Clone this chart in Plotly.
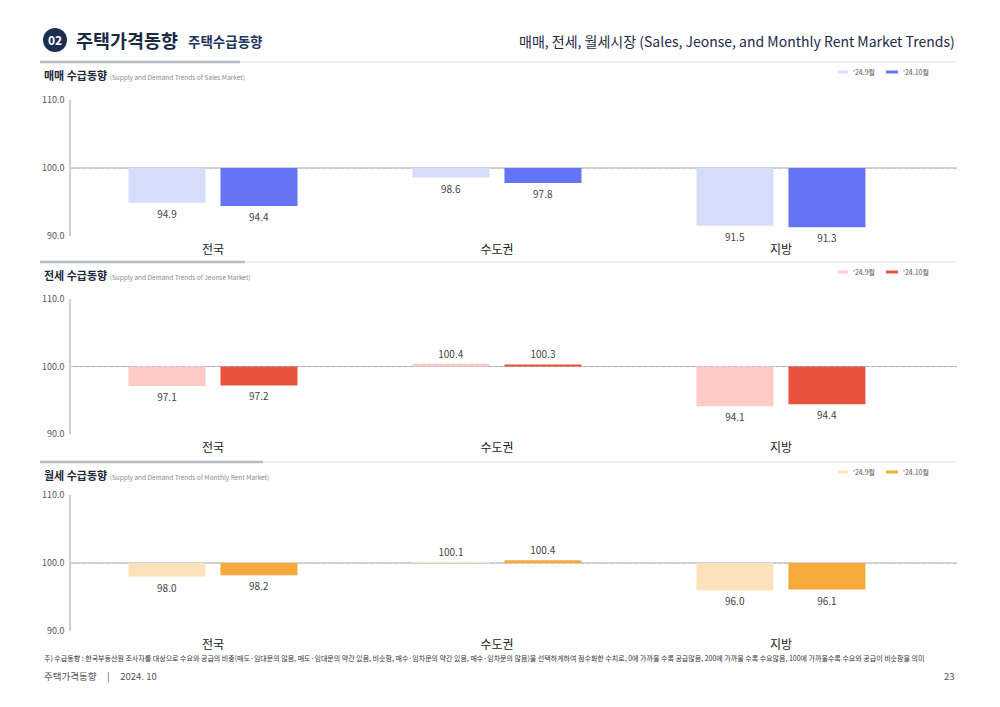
import plotly.graph_objects as go

categories = ["전국", "수도권", "지방"]
series_names = ["'24.9월", "'24.10월"]

sales_sep = [94.9, 98.6, 91.5]
sales_oct = [94.4, 97.8, 91.3]
jeonse_sep = [97.1, 100.4, 94.1]
jeonse_oct = [97.2, 100.3, 94.4]
rent_sep = [98.0, 100.1, 96.0]
rent_oct = [98.2, 100.4, 96.1]

base_value = 100.0
y_ticks = [90, 100, 110]

panel_titles = ["매매 수급동향", "전세 수급동향", "월세 수급동향"]
panel_subtitles = [
    "(Supply and Demand Trends of Sales Market)",
    "(Supply and Demand Trends of Jeonse Market)",
    "(Supply and Demand Trends of Monthly Rent Market)",
]

FONT = "Noto Sans CJK KR"
W, H = 1000, 707


def px(x):
    return x / W


def py(y):
    return 1 - y / H


panels = [
    dict(sep=sales_sep, oct=sales_oct, colors=("#d5ddfa", "#6574f4"),
         top=100, bot=236, line_y=62, thick_end=240, title_y=75, legend_y=72),
    dict(sep=jeonse_sep, oct=jeonse_oct, colors=("#fdcac6", "#e8523f"),
         top=299, bot=434, line_y=262, thick_end=245, title_y=275, legend_y=272),
    dict(sep=rent_sep, oct=rent_oct, colors=("#fde1ba", "#f5aa3a"),
         top=495, bot=631, line_y=462, thick_end=263, title_y=475, legend_y=472),
]

# legend layout (pixel positions of the swatch start, swatch width)
legend_items_x = [(838, 10), (886, 12)]

fig = go.Figure()
layout = {}
shapes = []
annotations = []

for i, p in enumerate(panels):
    n = "" if i == 0 else str(i + 1)
    xa, ya = "x" + n, "y" + n
    for j, (vals, color) in enumerate(zip([p["sep"], p["oct"]], p["colors"])):
        fig.add_trace(go.Bar(
            x=categories,
            y=[v - base_value for v in vals],
            base=[base_value] * len(vals),
            name=series_names[j],
            marker=dict(color=color, line=dict(width=0)),
            text=[f"{v:.1f}" for v in vals],
            textposition="outside",
            textfont=dict(family=FONT, size=10, color="#444"),
            cliponaxis=False,
            xaxis=xa, yaxis=ya,
            showlegend=False,
            hoverinfo="skip",
        ))
        # legend entry (swatch + label)
        lx, lw = legend_items_x[j]
        shapes.append(dict(type="line", xref="paper", yref="paper",
                           x0=px(lx), x1=px(lx + lw),
                           y0=py(p["legend_y"]), y1=py(p["legend_y"]),
                           line=dict(color=color, width=3)))
        annotations.append(dict(xref="paper", yref="paper",
                                x=px(lx + lw + 3), y=py(p["legend_y"]),
                                text=series_names[j], showarrow=False,
                                xanchor="left", yanchor="middle",
                                font=dict(family=FONT, size=7, color="#555")))
    layout["xaxis" + n] = dict(
        domain=[px(71), px(957)],
        anchor=ya,
        type="category",
        range=[-0.5, 2.62],
        showgrid=False, zeroline=False, showline=False,
        ticks="", ticklabelstandoff=5, automargin=False,
        tickfont=dict(family=FONT, size=12, color="#222"),
    )
    layout["yaxis" + n] = dict(
        domain=[py(p["bot"]), py(p["top"])],
        anchor=xa,
        range=[90, 110],
        tickvals=y_ticks,
        ticktext=[f"{t:.1f}" for t in y_ticks],
        tickfont=dict(family=FONT, size=9, color="#555"),
        showgrid=True, gridcolor="#c8c8c8", griddash="dot", gridwidth=1,
        zeroline=False, automargin=False,
        showline=True, linecolor="#cfcfcf", linewidth=1.5,
        ticks="", ticklabelstandoff=3,
    )
    # baseline at 100
    shapes.append(dict(type="line", xref=xa + " domain", yref=ya,
                       x0=0, x1=1, y0=base_value, y1=base_value,
                       line=dict(color="#aaaaaa", width=1.2), layer="below"))
    # separator lines
    shapes.append(dict(type="line", xref="paper", yref="paper",
                       x0=px(40), x1=px(p["thick_end"]), y0=py(p["line_y"]), y1=py(p["line_y"]),
                       line=dict(color="#b5bcc4", width=2.5)))
    shapes.append(dict(type="line", xref="paper", yref="paper",
                       x0=px(p["thick_end"]), x1=px(957), y0=py(p["line_y"]), y1=py(p["line_y"]),
                       line=dict(color="#e6e6e6", width=1)))
    annotations.append(dict(
        xref="paper", yref="paper", x=px(42), y=py(p["title_y"]),
        xanchor="left", yanchor="middle", showarrow=False,
        text=f"<b>{panel_titles[i]}</b> <span style='font-size:6.5px;color:#8a8a8a'>{panel_subtitles[i]}</span>",
        font=dict(family=FONT, size=11, color="#1e2a3a"),
    ))

# header
shapes.append(dict(type="circle", xref="paper", yref="paper",
                   x0=px(43), x1=px(67), y0=py(52), y1=py(28),
                   fillcolor="#1c2f4f", line=dict(width=0)))
annotations += [
    dict(xref="paper", yref="paper", x=px(55), y=py(40), text="<b>02</b>",
         showarrow=False, font=dict(family=FONT, size=12, color="white"),
         xanchor="center", yanchor="middle"),
    dict(xref="paper", yref="paper", x=px(74), y=py(40), text="<b>주택가격동향</b>",
         showarrow=False, font=dict(family=FONT, size=18.5, color="#1c2a44"),
         xanchor="left", yanchor="middle"),
    dict(xref="paper", yref="paper", x=px(186), y=py(41), text="<b>주택수급동향</b>",
         showarrow=False, font=dict(family=FONT, size=13.5, color="#1e3560"),
         xanchor="left", yanchor="middle"),
    dict(xref="paper", yref="paper", x=px(957), y=py(41),
         text="매매, 전세, 월세시장 (Sales, Jeonse, and Monthly Rent Market Trends)",
         showarrow=False, font=dict(family=FONT, size=14, color="#1c2a44"),
         xanchor="right", yanchor="middle"),
    dict(xref="paper", yref="paper", x=px(42), y=py(658),
         text="주) 수급동향 : 한국부동산원 조사자를 대상으로 수요와 공급의 비중(매도·임대문의 많음, 매도·임대문의 약간 있음, 비슷함, 매수·임차문의 약간 있음, 매수·임차문의 많음)을 선택하게하여 점수화한 수치로, 0에 가까울 수록 공급많음, 200에 가까울 수록 수요많음, 100에 가까울수록 수요와 공급이 비슷함을 의미",
         showarrow=False, font=dict(family=FONT, size=7, color="#333"),
         xanchor="left", yanchor="middle"),
    dict(xref="paper", yref="paper", x=px(42), y=py(676),
         text="주택가격동향     |     2024. 10",
         showarrow=False, font=dict(family=FONT, size=9.5, color="#555"),
         xanchor="left", yanchor="middle"),
    dict(xref="paper", yref="paper", x=px(957), y=py(676), text="23",
         showarrow=False, font=dict(family=FONT, size=9.5, color="#555"),
         xanchor="right", yanchor="middle"),
]

fig.update_layout(
    width=W, height=H,
    margin=dict(l=0, r=0, t=0, b=0, autoexpand=False),
    paper_bgcolor="white", plot_bgcolor="white",
    barmode="group", bargap=0.352, bargroupgap=0.163,
    font=dict(family=FONT),
    showlegend=False,
    shapes=shapes, annotations=annotations,
    **layout,
)

fig.write_html("out.html")
